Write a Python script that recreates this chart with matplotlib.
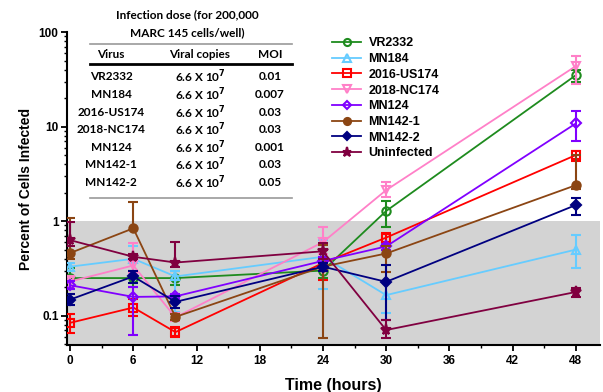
import matplotlib
matplotlib.use("Agg")
import matplotlib.pyplot as plt
from matplotlib.ticker import FixedLocator, NullFormatter, MultipleLocator

plt.rcParams['font.family'] = ['Liberation Sans', 'DejaVu Sans']
plt.rcParams['font.weight'] = 'bold'

# time points (hours)
times = [0, 6, 10, 24, 30, 48]

names = ['VR2332', 'MN184', '2016-US174', '2018-NC174', 'MN124', 'MN142-1', 'MN142-2', 'Uninfected']

# percent of cells infected (mean, lower, upper)
vr2332 = [0.25, 0.25, 0.25, 0.30, 1.28, 35]
vr2332_lo = [0.19, 0.20, 0.21, 0.25, 0.86, 30]
vr2332_hi = [0.32, 0.30, 0.30, 0.36, 1.63, 40]

mn184 = [0.33, 0.40, 0.26, 0.42, 0.165, 0.50]
mn184_lo = [0.30, 0.30, 0.11, 0.19, 0.106, 0.316]
mn184_hi = [0.36, 0.54, 0.30, 0.63, 0.23, 0.71]

us174 = [0.084, 0.122, 0.067, 0.36, 0.67, 5.0]
us174_lo = [0.066, 0.10, 0.060, 0.24, 0.60, 4.35]
us174_hi = [0.104, 0.15, 0.075, 0.50, 0.75, 5.55]

nc174 = [0.23, 0.34, 0.096, 0.6, 2.13, 43.7]
nc174_lo = [0.20, 0.28, 0.088, 0.45, 1.8, 28]
nc174_hi = [0.26, 0.59, 0.105, 0.87, 2.6, 56]

mn124 = [0.21, 0.158, 0.16, 0.38, 0.54, 10.8]
mn124_lo = [0.19, 0.062, 0.15, 0.33, 0.50, 7.0]
mn124_hi = [0.23, 0.20, 0.17, 0.42, 0.58, 14.6]

mn142_1 = [0.46, 0.84, 0.097, 0.33, 0.455, 2.4]
mn142_1_lo = [0.40, 0.80, 0.09, 0.058, 0.287, 2.2]
mn142_1_hi = [1.09, 1.6, 0.105, 0.56, 0.55, 5.0]

mn142_2 = [0.148, 0.26, 0.14, 0.33, 0.228, 1.48]
mn142_2_lo = [0.13, 0.22, 0.12, 0.30, 0.09, 1.16]
mn142_2_hi = [0.17, 0.30, 0.16, 0.36, 0.34, 1.74]

uninf = [0.63, 0.42, 0.365, 0.48, 0.0705, 0.178]
uninf_lo = [0.55, 0.40, 0.33, 0.40, 0.058, 0.157]
uninf_hi = [0.98, 0.45, 0.60, 0.59, 0.09, 0.196]

means = [vr2332, mn184, us174, nc174, mn124, mn142_1, mn142_2, uninf]
lows = [vr2332_lo, mn184_lo, us174_lo, nc174_lo, mn124_lo, mn142_1_lo, mn142_2_lo, uninf_lo]
highs = [vr2332_hi, mn184_hi, us174_hi, nc174_hi, mn124_hi, mn142_1_hi, mn142_2_hi, uninf_hi]

colors = ['#1E8B1E', '#66CCFF', '#FF0000', '#FF80C8', '#8000FF', '#8B4513', '#000080', '#800040']
markers = ['o', '^', 's', 'v', 'D', 'o', 'D', '*']
filled = [False, False, False, False, False, True, True, True]

# table text
tbl_virus = ['VR2332', 'MN184', '2016-US174', '2018-NC174', 'MN124', 'MN142-1', 'MN142-2']
tbl_moi = ['0.01', '0.007', '0.03', '0.03', '0.001', '0.03', '0.05']

fig = plt.figure(figsize=(6.03, 3.92), dpi=100)
ax = fig.add_axes([0.111, 0.12, 0.884, 0.798])

ax.axhspan(0.01, 1, color='#D3D3D3', zorder=0, lw=0)

handles = []
for i in range(len(names)):
    m = means[i]
    yerr = [[m[j] - lows[i][j] for j in range(len(m))],
            [highs[i][j] - m[j] for j in range(len(m))]]
    mfc = colors[i] if filled[i] else 'none'
    ms = 8 if markers[i] == '*' else 6
    if markers[i] == 'D':
        ms = 5
    c = ax.errorbar(times, m, yerr=yerr, color=colors[i], marker=markers[i], ms=ms,
                    mfc=mfc, mec=colors[i], mew=1.5, lw=1.3, elinewidth=1.5,
                    capsize=3.5, capthick=1.5, label=names[i], zorder=3 + i)
    handles.append(c.lines[0])

ax.set_yscale('log')
ax.set_ylim(0.049, 100)
ax.set_xlim(-0.3, 50.3)
ax.yaxis.set_major_locator(FixedLocator([0.1, 1, 10, 100]))
ax.set_yticklabels(['0.1', '1', '10', '100'])
minor = [k * 10.0 ** e for e in range(-2, 2) for k in range(2, 10)]
ax.yaxis.set_minor_locator(FixedLocator(minor))
ax.yaxis.set_minor_formatter(NullFormatter())
ax.xaxis.set_major_locator(MultipleLocator(6))
ax.xaxis.set_minor_locator(MultipleLocator(3))

for s in ['top', 'right']:
    ax.spines[s].set_visible(False)
for s in ['left', 'bottom']:
    ax.spines[s].set_linewidth(1.5)
ax.tick_params(which='major', length=4, width=1.3, labelsize=8.5)
ax.tick_params(which='minor', length=2.5, width=1.0)
ax.tick_params(axis='x', pad=3)
ax.tick_params(axis='y', pad=2)

ax.set_xlabel('Time (hours)', fontsize=11.5, fontweight='bold', labelpad=8)
ax.set_ylabel('Percent of Cells Infected', fontsize=10, fontweight='bold', labelpad=4)

ax.legend(handles, names, loc='upper left', bbox_to_anchor=(326 / 603, 1 - 31 / 392),
          bbox_transform=fig.transFigure, frameon=False, fontsize=9,
          handlelength=2.3, handletextpad=0.6, labelspacing=0.3, borderpad=0,
          markerscale=0.85)

# infection dose table
def fx(px):
    return px / 603

def fy(py):
    return 1 - py / 392

tfont = dict(fontsize=8.5, fontweight='bold', ha='center', va='center',
             family=['Lato', 'DejaVu Sans'])
fig.text(fx(187), fy(15), 'Infection dose (for 200,000', **tfont)
fig.text(fx(187), fy(33), 'MARC 145 cells/well)', **tfont)
fig.add_artist(plt.Line2D([fx(90), fx(292)], [fy(44), fy(44)], color='#999999', lw=1.2))
fig.text(fx(111), fy(55), 'Virus', **tfont)
fig.text(fx(200), fy(55), 'Viral copies', **tfont)
fig.text(fx(270), fy(55), 'MOI', **tfont)
fig.add_artist(plt.Line2D([fx(90), fx(292)], [fy(64), fy(64)], color='black', lw=2))
for i in range(len(tbl_virus)):
    yy = 77 + i * 17.6
    fig.text(fx(111), fy(yy), tbl_virus[i], **tfont)
    fig.text(fx(200), fy(yy), r'6.6 X 10$^{\mathbf{7}}$', **tfont)
    fig.text(fx(270), fy(yy), tbl_moi[i], **tfont)
fig.add_artist(plt.Line2D([fx(90), fx(292)], [fy(198), fy(198)], color='#999999', lw=1.2))

fig.savefig('out.png', dpi=100)
